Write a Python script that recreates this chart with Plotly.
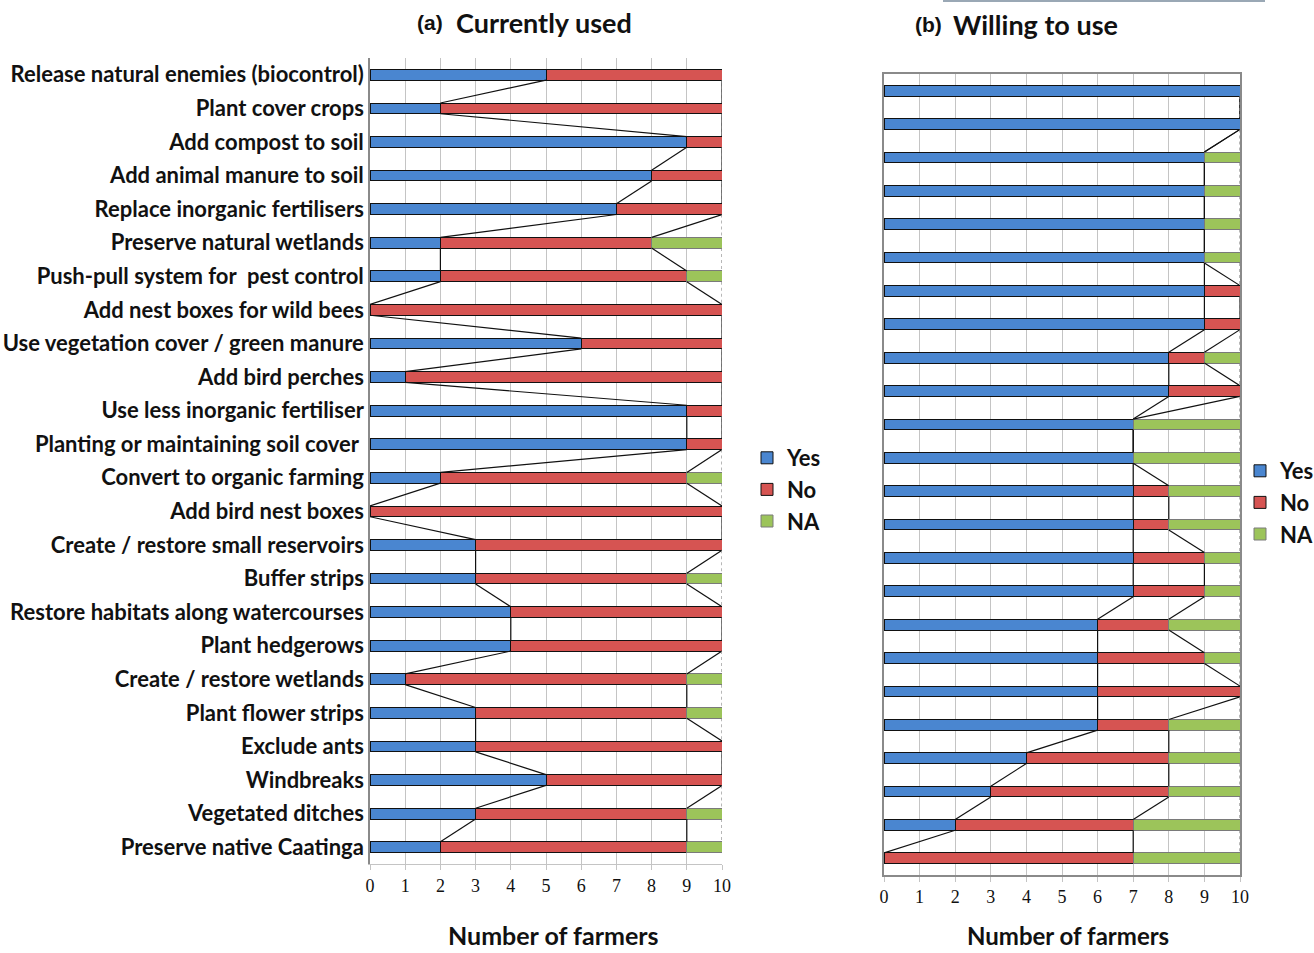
import plotly.graph_objects as go

categories_a = [
    "Release natural enemies (biocontrol)", "Plant cover crops", "Add compost to soil",
    "Add animal manure to soil", "Replace inorganic fertilisers", "Preserve natural wetlands",
    "Push-pull system for  pest control", "Add nest boxes for wild bees",
    "Use vegetation cover / green manure", "Add bird perches", "Use less inorganic fertiliser",
    "Planting or maintaining soil cover ", "Convert to organic farming", "Add bird nest boxes",
    "Create / restore small reservoirs", "Buffer strips", "Restore habitats along watercourses",
    "Plant hedgerows", "Create / restore wetlands", "Plant flower strips", "Exclude ants",
    "Windbreaks", "Vegetated ditches", "Preserve native Caatinga",
]
yes_a = [5, 2, 9, 8, 7, 2, 2, 0, 6, 1, 9, 9, 2, 0, 3, 3, 4, 4, 1, 3, 3, 5, 3, 2]
no_a = [5, 8, 1, 2, 3, 6, 7, 10, 4, 9, 1, 1, 7, 10, 7, 6, 6, 6, 8, 6, 7, 5, 6, 7]
na_a = [0, 0, 0, 0, 0, 2, 1, 0, 0, 0, 0, 0, 1, 0, 0, 1, 0, 0, 1, 1, 0, 0, 1, 1]

yes_b = [10, 10, 9, 9, 9, 9, 9, 9, 8, 8, 7, 7, 7, 7, 7, 7, 6, 6, 6, 6, 4, 3, 2, 0]
no_b = [0, 0, 0, 0, 0, 0, 1, 1, 1, 2, 0, 0, 1, 1, 2, 2, 2, 3, 4, 2, 4, 5, 5, 7]
na_b = [0, 0, 1, 1, 1, 1, 0, 0, 1, 0, 3, 3, 2, 2, 1, 1, 2, 1, 0, 2, 2, 2, 3, 3]

x_ticks = list(range(0, 11))
series_names = ["Yes", "No", "NA"]

BLUE = "#4A86D0"
RED = "#D65452"
GREEN = "#9CC45A"
W = 1314
H = 953
BAR_W = 0.32

fig = go.Figure()


def add_panel(yes, no, na, xa, ya, legend):
    n = len(yes)
    pos = list(range(1, n + 1))
    cols = [BLUE, RED, GREEN]
    vals = [yes, no, na]
    for name, v, c in zip(series_names, vals, cols):
        fig.add_trace(go.Bar(
            x=v, y=pos, orientation="h", name=name, width=BAR_W,
            marker=dict(color=c, line=dict(color="#7a7a7a" if name == "NA" else "#111111", width=1)),
            xaxis=xa, yaxis=ya, legend=legend, showlegend=True,
        ))
    cum1 = yes
    cum2 = [a + b for a, b in zip(yes, no)]
    cum3 = [a + b + c for a, b, c in zip(yes, no, na)]
    for cum, dash, col in [(cum1, "solid", "#111111"), (cum2, "solid", "#111111"), (cum3, "dot", "#888888")]:
        xs, ys = [], []
        for i in range(n - 1):
            xs += [cum[i], cum[i + 1], None]
            ys += [pos[i] + BAR_W / 2, pos[i + 1] - BAR_W / 2, None]
        fig.add_trace(go.Scatter(x=xs, y=ys, mode="lines", line=dict(color=col, width=1.2, dash=dash),
                                 xaxis=xa, yaxis=ya, showlegend=False, hoverinfo="skip"))


add_panel(yes_a, no_a, na_a, "x", "y", "legend")
add_panel(yes_b, no_b, na_b, "x2", "y2", "legend2")

tickfont = dict(family="Liberation Serif", size=18, color="#111111")
legfont = dict(family="Lato", size=22, color="#111111", weight="bold")

fig.update_layout(
    width=W, height=H,
    margin=dict(l=0, r=0, t=0, b=0, autoexpand=False),
    paper_bgcolor="white", plot_bgcolor="white",
    barmode="stack",
    xaxis=dict(domain=[370 / W, 722 / W], range=[0, 10], tickvals=x_ticks,
               showgrid=True, gridcolor="#c4c4c4", gridwidth=1,
               showline=True, linecolor="#c4c4c4", ticks="outside", ticklen=5, tickcolor="#c4c4c4",
               tickfont=tickfont, zeroline=False, anchor="y", fixedrange=True),
    yaxis=dict(domain=[1 - 864 / H, 1 - 58 / H], range=[24.5, 0.5],
               tickvals=list(range(1, len(categories_a) + 1)), ticktext=categories_a,
               showgrid=False, showline=True, linecolor="#8a8a8a", linewidth=1.5, ticks="",
               tickfont=dict(family="Lato", size=22, color="#111111", weight="bold"),
               ticklabelstandoff=0, zeroline=False, anchor="x"),
    xaxis2=dict(domain=[884 / W, 1240 / W], range=[0, 10], tickvals=x_ticks,
                showgrid=True, gridcolor="#c4c4c4", gridwidth=1,
                showline=True, mirror=True, linecolor="#8a8a8a", linewidth=1.5,
                ticks="outside", ticklen=5, tickcolor="#c4c4c4",
                tickfont=tickfont, zeroline=False, anchor="y2"),
    yaxis2=dict(domain=[1 - 875 / H, 1 - 74 / H], range=[24.5, 0.5],
                showticklabels=False, showgrid=False, showline=True, mirror=True,
                linecolor="#8a8a8a", linewidth=1.5, ticks="", zeroline=False, anchor="x2"),
    legend=dict(x=747 / W, y=1 - 437 / H, xanchor="left", yanchor="top",
                font=legfont, traceorder="normal", bgcolor="rgba(0,0,0,0)"),
    legend2=dict(x=1240 / W, y=1 - 450 / H, xanchor="left", yanchor="top",
                 font=legfont, traceorder="normal", bgcolor="rgba(0,0,0,0)"),
    showlegend=True,
)

annotations = [
    dict(text="(a)", x=430 / W, y=1 - 22 / H, font=dict(family="Liberation Sans", size=21, color="#111", weight="bold")),
    dict(text="Currently used", x=544 / W, y=1 - 22 / H, font=dict(family="Lato", size=27, color="#111", weight="bold")),
    dict(text="(b)", x=928 / W, y=1 - 25 / H, font=dict(family="Liberation Sans", size=21, color="#111", weight="bold")),
    dict(text="Willing to use", x=1035 / W, y=1 - 25 / H, font=dict(family="Lato", size=27, color="#111", weight="bold")),
    dict(text="Number of farmers", x=553 / W, y=1 - 935 / H, font=dict(family="Lato", size=25, color="#111", weight="bold")),
    dict(text="Number of farmers", x=1068 / W, y=1 - 935 / H, font=dict(family="Lato", size=24, color="#111", weight="bold")),
]
for a in annotations:
    a.update(xref="paper", yref="paper", showarrow=False, xanchor="center", yanchor="middle")
fig.update_layout(annotations=annotations)

fig.add_shape(type="line", xref="paper", yref="paper", x0=943 / W, x1=1265 / W, y0=1 - 1 / H, y1=1 - 1 / H,
              line=dict(color="#9aa8b5", width=2))

fig.write_html("out.html", config={"displayModeBar": False},
               post_script="document.body.style.margin='0';document.body.style.overflow='hidden';")
